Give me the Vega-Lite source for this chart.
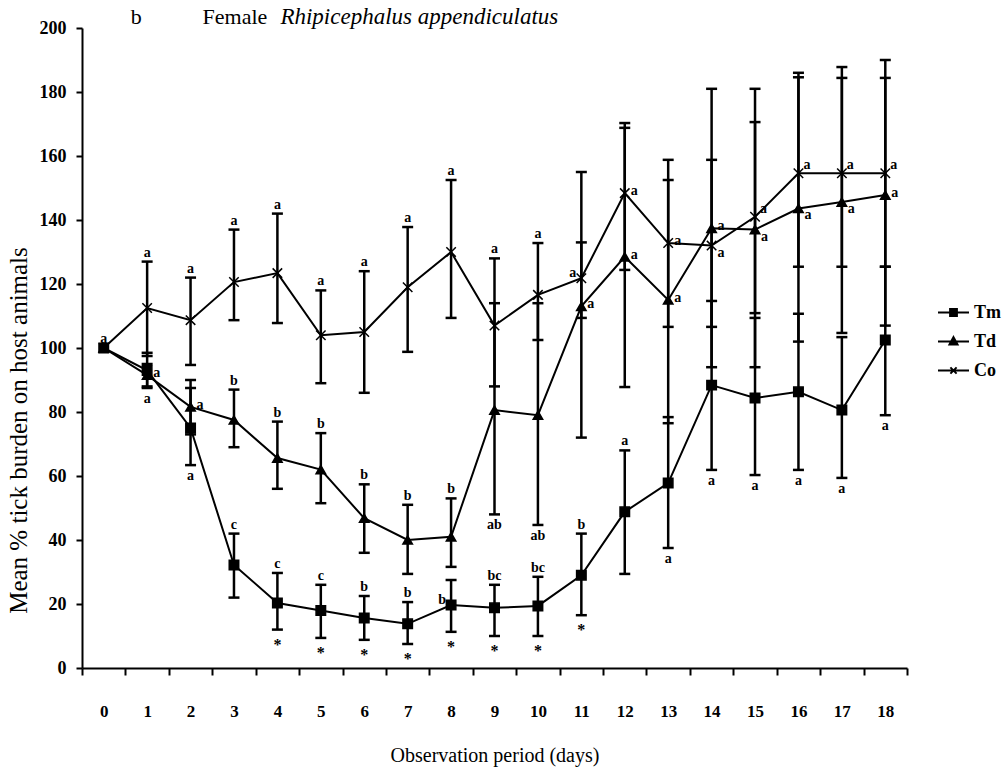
{
  "$schema": "https://vega.github.io/schema/vega-lite/v6.json",
  "width": 825,
  "height": 640,
  "autosize": {"type": "none"},
  "padding": {"left": 82, "top": 28, "right": 101, "bottom": 109},
  "background": "white",
  "config": {
    "view": {"stroke": null},
    "axis": {"grid": false, "domainColor": "black", "tickColor": "black", "labelColor": "black", "titleColor": "black", "labelFont": "Liberation Serif", "titleFont": "Liberation Serif"},
    "text": {"font": "Liberation Serif", "color": "black"}
  },
  "datasets": {
    "d": [
      {"day":0,"s":"Tm","m":100},
      {"day":1,"s":"Tm","m":93,"lo":87.5,"hi":98.5,"lab":"a","pos":"below"},
      {"day":2,"s":"Tm","m":75,"lo":63.4,"hi":87.5,"lab":"a","pos":"below"},
      {"day":3,"s":"Tm","m":32.2,"lo":22,"hi":42,"lab":"c","pos":"above"},
      {"day":4,"s":"Tm","m":20.3,"lo":12,"hi":29.7,"lab":"c","pos":"above","star":"*"},
      {"day":5,"s":"Tm","m":18,"lo":9.4,"hi":26,"lab":"c","pos":"above","star":"*"},
      {"day":6,"s":"Tm","m":15.6,"lo":8.8,"hi":22.5,"lab":"b","pos":"above","star":"*"},
      {"day":7,"s":"Tm","m":13.8,"lo":7.5,"hi":20.6,"lab":"b","pos":"above","star":"*"},
      {"day":8,"s":"Tm","m":19.7,"lo":11.3,"hi":27.5,"lab":"b","pos":"left","star":"*"},
      {"day":9,"s":"Tm","m":18.8,"lo":10,"hi":26,"lab":"bc","pos":"above","star":"*"},
      {"day":10,"s":"Tm","m":19.4,"lo":10,"hi":28.5,"lab":"bc","pos":"above","star":"*"},
      {"day":11,"s":"Tm","m":29,"lo":16.5,"hi":42,"lab":"b","pos":"above","star":"*"},
      {"day":12,"s":"Tm","m":48.8,"lo":29.4,"hi":68,"lab":"a","pos":"above"},
      {"day":13,"s":"Tm","m":57.8,"lo":37.5,"hi":78.4,"lab":"a","pos":"below"},
      {"day":14,"s":"Tm","m":88.4,"lo":61.9,"hi":114.7,"lab":"a","pos":"below"},
      {"day":15,"s":"Tm","m":84.4,"lo":60.3,"hi":109.4,"lab":"a","pos":"below"},
      {"day":16,"s":"Tm","m":86.3,"lo":61.9,"hi":110.7,"lab":"a","pos":"below"},
      {"day":17,"s":"Tm","m":80.6,"lo":59.4,"hi":103.4,"lab":"a","pos":"below"},
      {"day":18,"s":"Tm","m":102.5,"lo":79,"hi":125.4,"lab":"a","pos":"below"},
      {"day":0,"s":"Td","m":100},
      {"day":1,"s":"Td","m":91.5,"lo":88,"hi":95,"lab":"a","pos":"right"},
      {"day":2,"s":"Td","m":81.6,"lo":73,"hi":90,"lab":"a","pos":"right"},
      {"day":3,"s":"Td","m":77.5,"lo":69,"hi":87,"lab":"b","pos":"above"},
      {"day":4,"s":"Td","m":65.6,"lo":56,"hi":77,"lab":"b","pos":"above"},
      {"day":5,"s":"Td","m":62,"lo":51.5,"hi":73.4,"lab":"b","pos":"above"},
      {"day":6,"s":"Td","m":46.8,"lo":36,"hi":57.4,"lab":"b","pos":"above"},
      {"day":7,"s":"Td","m":40,"lo":29.4,"hi":51,"lab":"b","pos":"above"},
      {"day":8,"s":"Td","m":41,"lo":31.6,"hi":53,"lab":"b","pos":"above"},
      {"day":9,"s":"Td","m":80.6,"lo":48,"hi":114,"lab":"ab","pos":"below"},
      {"day":10,"s":"Td","m":79,"lo":44.7,"hi":114,"lab":"ab","pos":"below"},
      {"day":11,"s":"Td","m":113,"lo":72,"hi":155,"lab":"a","pos":"right"},
      {"day":12,"s":"Td","m":128.5,"lo":87.8,"hi":168.8,"lab":"a","pos":"right"},
      {"day":13,"s":"Td","m":115,"lo":76.5,"hi":158.8,"lab":"a","pos":"right"},
      {"day":14,"s":"Td","m":137.4,"lo":94,"hi":181,"lab":"a","pos":"right"},
      {"day":15,"s":"Td","m":137,"lo":94,"hi":181,"lab":"a","pos":"lr"},
      {"day":16,"s":"Td","m":143.6,"lo":102,"hi":184.6,"lab":"a","pos":"lr"},
      {"day":17,"s":"Td","m":145.6,"lo":104.7,"hi":184.4,"lab":"a","pos":"lr"},
      {"day":18,"s":"Td","m":147.8,"lo":107,"hi":184.4,"lab":"a","pos":"right"},
      {"day":0,"s":"Co","m":100,"lo":100,"hi":100,"lab":"a","pos":"above"},
      {"day":1,"s":"Co","m":112.5,"lo":97.5,"hi":127,"lab":"a","pos":"above"},
      {"day":2,"s":"Co","m":108.7,"lo":94.7,"hi":122,"lab":"a","pos":"above"},
      {"day":3,"s":"Co","m":120.6,"lo":108.7,"hi":137,"lab":"a","pos":"above"},
      {"day":4,"s":"Co","m":123.4,"lo":107.8,"hi":142,"lab":"a","pos":"above"},
      {"day":5,"s":"Co","m":104,"lo":89,"hi":118,"lab":"a","pos":"above"},
      {"day":6,"s":"Co","m":105,"lo":86,"hi":124,"lab":"a","pos":"above"},
      {"day":7,"s":"Co","m":119,"lo":98.8,"hi":137.8,"lab":"a","pos":"above"},
      {"day":8,"s":"Co","m":130,"lo":109.4,"hi":152.5,"lab":"a","pos":"above"},
      {"day":9,"s":"Co","m":107,"lo":88,"hi":128,"lab":"a","pos":"above"},
      {"day":10,"s":"Co","m":116.6,"lo":102.5,"hi":132.8,"lab":"a","pos":"above"},
      {"day":11,"s":"Co","m":121.8,"lo":109.4,"hi":133,"lab":"a","pos":"left"},
      {"day":12,"s":"Co","m":148.4,"lo":124.4,"hi":170.3,"lab":"a","pos":"right"},
      {"day":13,"s":"Co","m":132.8,"lo":106.6,"hi":152.5,"lab":"a","pos":"right"},
      {"day":14,"s":"Co","m":132,"lo":106.6,"hi":158.8,"lab":"a","pos":"lr"},
      {"day":15,"s":"Co","m":141,"lo":110.9,"hi":170.6,"lab":"a","pos":"ur"},
      {"day":16,"s":"Co","m":154.6,"lo":125.4,"hi":186,"lab":"a","pos":"ur"},
      {"day":17,"s":"Co","m":154.6,"lo":125.4,"hi":187.8,"lab":"a","pos":"ur"},
      {"day":18,"s":"Co","m":154.6,"lo":125.4,"hi":190,"lab":"a","pos":"ur"}
    ],
    "t": [
      {"day":1,"txt":"b","part":"b"},
      {"day":2,"txt":"Female","part":"f"},
      {"day":4,"txt":"Rhipicephalus appendiculatus","part":"i"}
    ]
  },
  "encoding": {
    "x": {
      "field": "day", "type": "ordinal",
      "scale": {"type": "band", "domain": [0,1,2,3,4,5,6,7,8,9,10,11,12,13,14,15,16,17,18], "paddingInner": 0, "paddingOuter": 0},
      "axis": {"title": "Observation period (days)", "labelAngle": 0, "tickBand": "extent", "domainWidth": 2, "tickWidth": 2, "tickSize": 7, "labelFontSize": 17, "labelFontWeight": "bold", "labelPadding": 28, "titleFontSize": 20, "titleFontWeight": "normal", "titlePadding": 26}
    }
  },
  "layer": [
    {
      "data": {"name": "d"},
      "transform": [{"filter": "isValid(datum.lo) && datum.hi > datum.lo"}],
      "mark": {"type": "rule", "color": "black", "strokeWidth": 2.5},
      "encoding": {
        "x": {"field": "day", "type": "ordinal", "bandPosition": 0.5},
        "y": {"field": "lo", "type": "quantitative", "scale": {"domain": [0, 200], "nice": false},
          "axis": {"title": "Mean % tick burden on host animals", "values": [0,20,40,60,80,100,120,140,160,180,200], "domainWidth": 2, "tickWidth": 2, "tickSize": 6, "labelFontSize": 18, "labelFontWeight": "bold", "labelPadding": 10, "titleFontSize": 25, "titleFontWeight": "normal", "titlePadding": 8, "titleY": 402}},
        "y2": {"field": "hi"}
      }
    },
    {
      "data": {"name": "d"},
      "transform": [{"filter": "isValid(datum.lo) && datum.hi > datum.lo"}],
      "mark": {"type": "tick", "color": "black", "size": 11, "thickness": 2.5, "opacity": 1},
      "encoding": {"x": {"field": "day", "type": "ordinal"}, "y": {"field": "hi", "type": "quantitative"}}
    },
    {
      "data": {"name": "d"},
      "transform": [{"filter": "isValid(datum.lo) && datum.hi > datum.lo"}],
      "mark": {"type": "tick", "color": "black", "size": 11, "thickness": 2.5, "opacity": 1},
      "encoding": {"x": {"field": "day", "type": "ordinal"}, "y": {"field": "lo", "type": "quantitative"}}
    },
    {
      "data": {"name": "d"},
      "mark": {"type": "line", "color": "black", "strokeWidth": 2},
      "encoding": {
        "x": {"field": "day", "type": "ordinal", "bandPosition": 0.5},
        "y": {"field": "m", "type": "quantitative"},
        "detail": {"field": "s"}
      }
    },
    {
      "data": {"name": "d"},
      "mark": {"type": "point", "filled": true, "fill": "black", "stroke": "black", "strokeWidth": 1.5, "opacity": 1, "size": 90},
      "encoding": {
        "x": {"field": "day", "type": "ordinal", "bandPosition": 0.5},
        "y": {"field": "m", "type": "quantitative"},
        "shape": {"field": "s", "type": "nominal", "scale": {"domain": ["Tm","Td","Co"], "range": ["square","triangle-up","M-1,-1L1,1M-1,1L1,-1"]}, "legend": null}
      }
    },
    {
      "data": {"name": "d"},
      "transform": [{"filter": "datum.pos == 'above'"}],
      "mark": {"type": "text", "font": "Liberation Serif", "fontSize": 14, "fontWeight": "bold", "baseline": "middle", "dy": -9},
      "encoding": {"x": {"field": "day", "type": "ordinal", "bandPosition": 0.5}, "y": {"field": "hi", "type": "quantitative"}, "text": {"field": "lab"}}
    },
    {
      "data": {"name": "d"},
      "transform": [{"filter": "datum.pos == 'below'"}],
      "mark": {"type": "text", "font": "Liberation Serif", "fontSize": 14, "fontWeight": "bold", "baseline": "middle", "dy": 11},
      "encoding": {"x": {"field": "day", "type": "ordinal", "bandPosition": 0.5}, "y": {"field": "lo", "type": "quantitative"}, "text": {"field": "lab"}}
    },
    {
      "data": {"name": "d"},
      "transform": [{"filter": "datum.pos == 'right'"}],
      "mark": {"type": "text", "font": "Liberation Serif", "fontSize": 14, "fontWeight": "bold", "baseline": "middle", "align": "left", "dx": 6, "dy": -2},
      "encoding": {"x": {"field": "day", "type": "ordinal", "bandPosition": 0.5}, "y": {"field": "m", "type": "quantitative"}, "text": {"field": "lab"}}
    },
    {
      "data": {"name": "d"},
      "transform": [{"filter": "datum.pos == 'ur'"}],
      "mark": {"type": "text", "font": "Liberation Serif", "fontSize": 14, "fontWeight": "bold", "baseline": "middle", "align": "left", "dx": 5, "dy": -8},
      "encoding": {"x": {"field": "day", "type": "ordinal", "bandPosition": 0.5}, "y": {"field": "m", "type": "quantitative"}, "text": {"field": "lab"}}
    },
    {
      "data": {"name": "d"},
      "transform": [{"filter": "datum.pos == 'lr'"}],
      "mark": {"type": "text", "font": "Liberation Serif", "fontSize": 14, "fontWeight": "bold", "baseline": "middle", "align": "left", "dx": 6, "dy": 7},
      "encoding": {"x": {"field": "day", "type": "ordinal", "bandPosition": 0.5}, "y": {"field": "m", "type": "quantitative"}, "text": {"field": "lab"}}
    },
    {
      "data": {"name": "d"},
      "transform": [{"filter": "datum.pos == 'left'"}],
      "mark": {"type": "text", "font": "Liberation Serif", "fontSize": 14, "fontWeight": "bold", "baseline": "middle", "align": "right", "dx": -5, "dy": -5},
      "encoding": {"x": {"field": "day", "type": "ordinal", "bandPosition": 0.5}, "y": {"field": "m", "type": "quantitative"}, "text": {"field": "lab"}}
    },
    {
      "data": {"name": "d"},
      "transform": [{"filter": "isValid(datum.star)"}],
      "mark": {"type": "text", "font": "Liberation Serif", "fontSize": 16, "fontWeight": "bold", "baseline": "top", "dy": 7},
      "encoding": {"x": {"field": "day", "type": "ordinal", "bandPosition": 0.5}, "y": {"field": "lo", "type": "quantitative"}, "text": {"field": "star"}}
    },
    {
      "data": {"name": "t"},
      "transform": [{"filter": "datum.part == 'b'"}],
      "mark": {"type": "text", "font": "Liberation Serif", "fontSize": 22, "baseline": "alphabetic", "align": "center", "dx": -11, "dy": -4},
      "encoding": {"x": {"field": "day", "type": "ordinal", "bandPosition": 0.5}, "y": {"datum": 200}, "text": {"field": "txt"}}
    },
    {
      "data": {"name": "t"},
      "transform": [{"filter": "datum.part == 'f'"}],
      "mark": {"type": "text", "font": "Liberation Serif", "fontSize": 22, "baseline": "alphabetic", "align": "left", "dx": 12, "dy": -4},
      "encoding": {"x": {"field": "day", "type": "ordinal", "bandPosition": 0.5}, "y": {"datum": 200}, "text": {"field": "txt"}}
    },
    {
      "data": {"name": "t"},
      "transform": [{"filter": "datum.part == 'i'"}],
      "mark": {"type": "text", "font": "Liberation Serif", "fontSize": 23, "fontStyle": "italic", "baseline": "alphabetic", "align": "left", "dx": 3, "dy": -4},
      "encoding": {"x": {"field": "day", "type": "ordinal", "bandPosition": 0.5}, "y": {"datum": 200}, "text": {"field": "txt"}}
    },
    {
      "data": {"name": "d"},
      "mark": {"type": "point", "filled": true, "fill": "black", "stroke": "black", "strokeWidth": 2, "opacity": 0, "size": 961},
      "encoding": {
        "x": {"field": "day", "type": "ordinal", "bandPosition": 0.5},
        "y": {"field": "m", "type": "quantitative"},
        "shape": {"field": "s", "type": "nominal",
          "scale": {"domain": ["Tm","Td","Co"], "range": ["M-1,0H1M-0.22,-0.22H0.22V0.22H-0.22Z", "M-1,0H1M0,-0.28L0.26,0.2H-0.26Z", "M-1,0H1M-0.2,-0.2L0.2,0.2M-0.2,0.2L0.2,-0.2"]},
          "legend": {"title": null, "orient": "none", "legendX": 855, "legendY": 268, "padding": 0, "rowPadding": 3, "symbolOpacity": 1, "symbolSize": 961, "symbolFillColor": "black", "symbolStrokeColor": "black", "symbolStrokeWidth": 2, "labelFont": "Liberation Serif", "labelFontSize": 18, "labelFontWeight": "bold", "labelColor": "black", "labelOffset": 4,
            "encoding": {"symbols": {"stroke": {"value": "black"}, "strokeWidth": {"value": 2}, "fill": {"value": "black"}, "opacity": {"value": 1}}}}}
      }
    }
  ],
  "resolve": {"scale": {"shape": "independent"}, "legend": {"shape": "independent"}}
}
